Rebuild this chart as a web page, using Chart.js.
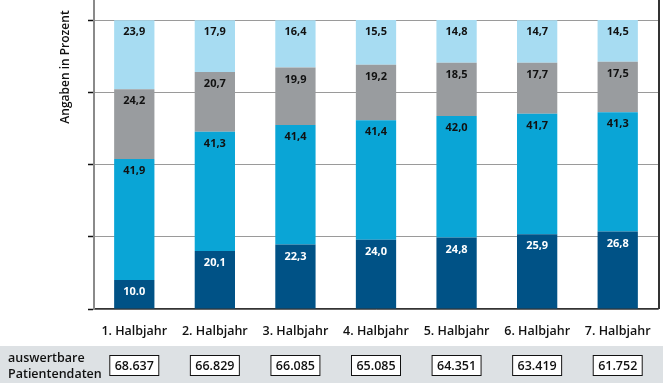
<!DOCTYPE html>
<html>
<head>
<meta charset="utf-8">
<script src="https://cdn.jsdelivr.net/npm/chart.js@4/dist/chart.umd.min.js"></script>
<style>
  html, body { margin: 0; padding: 0; background: #fff; }
  #wrap { width: 663px; height: 385px; position: relative; }
</style>
</head>
<body>
<div id="wrap"><canvas id="chart"></canvas></div>
<script>
const CATEGORIES = ["1. Halbjahr", "2. Halbjahr", "3. Halbjahr", "4. Halbjahr", "5. Halbjahr", "6. Halbjahr", "7. Halbjahr"];
const DARK = [10.0, 20.1, 22.3, 24.0, 24.8, 25.9, 26.8];
const MID = [41.9, 41.3, 41.4, 41.4, 42.0, 41.7, 41.3];
const GRAY = [24.2, 20.7, 19.9, 19.2, 18.5, 17.7, 17.5];
const LIGHT = [23.9, 17.9, 16.4, 15.5, 14.8, 14.7, 14.5];
const PATIENTS = ["68.637", "66.829", "66.085", "65.085", "64.351", "63.419", "61.752"];
const Y_TICKS = [0, 25, 50, 75, 100];
const Y_TITLE = "Angaben in Prozent";
const TABLE_TITLE = ["auswertbare", "Patientendaten"];

const FONT = "'Open Sans', 'Noto Sans', sans-serif";

// the first value is printed with a dot in the original
function fmtVal(v, ds, i) {
  if (ds === 0 && i === 0) return "10.0";
  return v.toFixed(1).replace(".", ",");
}

const segLabels = {
  id: "segLabels",
  afterDatasetsDraw(chart) {
    const ctx = chart.ctx;
    ctx.save();
    ctx.font = "bold 11px " + FONT;
    ctx.textAlign = "center";
    ctx.textBaseline = "middle";
    chart.data.datasets.forEach((ds, di) => {
      const meta = chart.getDatasetMeta(di);
      meta.data.forEach((bar, i) => {
        ctx.fillStyle = di === 0 ? "#ffffff" : "#111111";
        ctx.fillText(fmtVal(ds.data[i], di, i), bar.x, bar.y + 12);
      });
    });
    ctx.restore();
  },
};

const frame = {
  id: "frame",
  afterDraw(chart) {
    const { ctx, chartArea } = chart;
    const x = chart.scales.x;
    ctx.save();
    // right border
    ctx.strokeStyle = "#333333";
    ctx.lineWidth = 2;
    ctx.beginPath();
    ctx.moveTo(chartArea.right + 1, 0);
    ctx.lineTo(chartArea.right + 1, chartArea.bottom);
    ctx.stroke();

    // y title
    ctx.fillStyle = "#111111";
    ctx.font = "600 12px " + FONT;
    ctx.textAlign = "center";
    ctx.textBaseline = "middle";
    ctx.translate(66, 67);
    ctx.rotate(-Math.PI / 2);
    ctx.fillText(Y_TITLE, 0, 0);
    ctx.restore();

    // table band
    ctx.save();
    ctx.fillStyle = "#dde1e4";
    ctx.fillRect(0, 346, chart.width, 37);
    ctx.fillStyle = "#111111";
    ctx.font = "600 12.5px " + FONT;
    ctx.textAlign = "left";
    ctx.textBaseline = "middle";
    ctx.fillText(TABLE_TITLE[0], 8, 358);
    ctx.fillText(TABLE_TITLE[1], 8, 374);
    ctx.textAlign = "center";
    PATIENTS.forEach((p, i) => {
      const cx = x.getPixelForValue(i);
      ctx.fillStyle = "#ffffff";
      ctx.fillRect(cx - 25, 355, 50, 21);
      ctx.strokeStyle = "#111111";
      ctx.lineWidth = 1;
      ctx.strokeRect(cx - 24.5, 355.5, 49, 20);
      ctx.fillStyle = "#111111";
      ctx.fillText(p, cx, 366);
    });
    ctx.restore();
  },
};

new Chart(document.getElementById("chart"), {
  type: "bar",
  data: {
    labels: CATEGORIES,
    datasets: [
      { label: "dark", data: DARK, backgroundColor: "#005286" },
      { label: "mid", data: MID, backgroundColor: "#0aa5d6" },
      { label: "gray", data: GRAY, backgroundColor: "#999c9f" },
      { label: "light", data: LIGHT, backgroundColor: "#a7dcf2" },
    ],
  },
  options: {
    responsive: true,
    maintainAspectRatio: false,
    animation: false,
    layout: { padding: { left: 0, right: 5, top: 0, bottom: 0 } },
    datasets: { bar: { barPercentage: 0.5, categoryPercentage: 1, borderWidth: 0 } },
    plugins: { legend: { display: false }, tooltip: { enabled: false } },
    scales: {
      x: {
        stacked: true,
        grid: { display: false },
        border: { color: "#333333", width: 1.5 },
        ticks: {
          color: "#111111",
          padding: 7,
          font: { family: FONT, size: 12.5, weight: "600" },
        },
        afterFit: (s) => { s.height = 76; },
      },
      y: {
        stacked: true,
        min: 0,
        max: 107,
        afterBuildTicks: (s) => { s.ticks = Y_TICKS.map((v) => ({ value: v })); },
        ticks: { display: false },
        grid: { color: "#9a9a9a", lineWidth: 1, tickLength: 6, tickColor: "#111111", tickWidth: 1.5 },
        border: { color: "#8a8a8a", width: 2 },
        afterFit: (s) => { s.width = 94; },
      },
    },
  },
  plugins: [segLabels, frame],
});
</script>
</body>
</html>
